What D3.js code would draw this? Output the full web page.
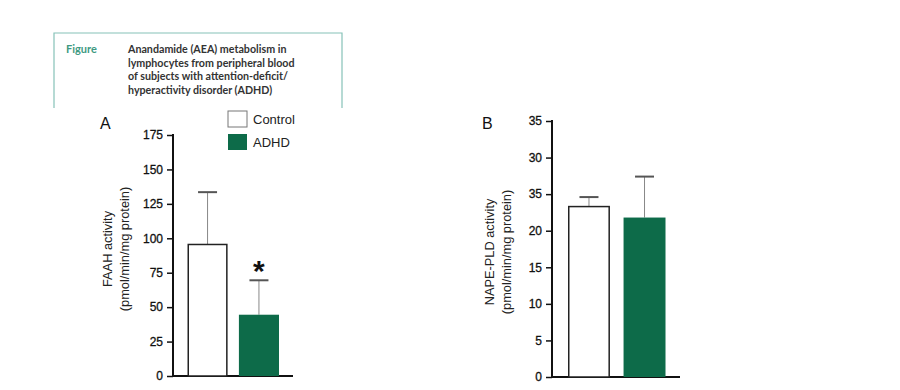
<!DOCTYPE html>
<html>
<head>
<meta charset="utf-8">
<script src="https://cdn.jsdelivr.net/npm/d3@7"></script>
<style>
  body { margin: 0; background: #fff; }
  svg { display: block; }
</style>
</head>
<body>
<div id="chart"></div>
<script>
// data
var groups = ["Control", "ADHD"];
var faahMean = [95.5, 44.5];
var faahErr = [38, 25];
var faahTicks = [0, 25, 50, 75, 100, 125, 150, 175];
var napeMean = [23.3, 21.8];
var napeErr = [1.3, 5.6];
var napeTicks = [0, 5, 10, 15, 20, 25, 30, 35];
var napeTickLabels = ["0", "5", "10", "15", "20", "35", "30", "35"];
var captionLines = ["Anandamide (AEA) metabolism in", "lymphocytes from peripheral blood",
  "of subjects with attention-deficit/", "hyperactivity disorder (ADHD)"];

const green = "#0d6b49";
const font = '"Liberation Sans", Arial, sans-serif';

const svg = d3.select("#chart")
  .append("svg")
  .attr("width", 900)
  .attr("height", 390);

// caption box (open at the bottom)
svg.append("path")
  .attr("d", "M54,108V33H342V108")
  .attr("fill", "none")
  .attr("stroke", "#86c2b8")
  .attr("stroke-width", 1.2);

svg.append("text")
  .attr("x", 66)
  .attr("y", 53)
  .attr("fill", "#3f9a82")
  .style("font-family", "Lato, sans-serif")
  .style("font-weight", 700)
  .style("font-size", "11px")
  .text("Figure");

svg.append("g").selectAll("text")
  .data(captionLines)
  .enter()
  .append("text")
  .attr("x", 128)
  .attr("y", (d, i) => 53 + i * 13.6)
  .attr("fill", "#333")
  .style("font-family", "Lato, sans-serif")
  .style("font-weight", 700)
  .style("font-size", "10.7px")
  .text(d => d);

function panel(opts) {
  const g = svg.append("g");

  const y = d3.scaleLinear()
    .domain([0, opts.ticks[opts.ticks.length - 1]])
    .range([opts.y0, opts.y1]);

  const x = d3.scaleBand()
    .domain(groups)
    .range(opts.barRange)
    .paddingInner(opts.pad);

  const axis = d3.axisLeft(y)
    .tickValues(opts.ticks)
    .tickSize(6)
    .tickPadding(4)
    .tickFormat((d, i) => opts.labels ? opts.labels[i] : d);

  const ag = g.append("g")
    .attr("transform", "translate(" + opts.ax + ",0)")
    .call(axis);
  ag.select(".domain").remove();
  ag.selectAll(".tick line").attr("stroke", "#111").attr("stroke-width", 1.5);
  ag.selectAll(".tick text")
    .style("font-family", font)
    .style("font-size", "12px")
    .attr("fill", "#111")
    .attr("stroke", "#111")
    .attr("stroke-width", 0.3);

  // axis lines
  g.append("line")
    .attr("x1", opts.ax).attr("x2", opts.ax)
    .attr("y1", y.range()[1] - 1).attr("y2", opts.y0 + 1)
    .attr("stroke", "#111").attr("stroke-width", 2);
  g.append("line")
    .attr("x1", opts.ax - 1).attr("x2", opts.axEnd)
    .attr("y1", opts.y0).attr("y2", opts.y0)
    .attr("stroke", "#111").attr("stroke-width", 2);

  // error bars (upper only)
  const eb = g.append("g").selectAll("g")
    .data(groups)
    .enter()
    .append("g");
  eb.append("line")
    .attr("x1", d => x(d) + x.bandwidth() / 2)
    .attr("x2", d => x(d) + x.bandwidth() / 2)
    .attr("y1", (d, i) => y(opts.mean[i]))
    .attr("y2", (d, i) => y(opts.mean[i] + opts.err[i]))
    .attr("stroke", "#888")
    .attr("stroke-width", 1);
  eb.append("line")
    .attr("x1", d => x(d) + x.bandwidth() / 2 - 9.5)
    .attr("x2", d => x(d) + x.bandwidth() / 2 + 9.5)
    .attr("y1", (d, i) => y(opts.mean[i] + opts.err[i]))
    .attr("y2", (d, i) => y(opts.mean[i] + opts.err[i]))
    .attr("stroke", "#555")
    .attr("stroke-width", 2);

  // bars
  g.append("g").selectAll("rect")
    .data(groups)
    .enter()
    .append("rect")
    .attr("x", d => x(d) + (d === "Control" ? 0.75 : 0))
    .attr("width", d => x.bandwidth() - (d === "Control" ? 1.5 : 0))
    .attr("y", (d, i) => y(opts.mean[i]))
    .attr("height", (d, i) => opts.y0 - y(opts.mean[i]))
    .attr("fill", d => d === "Control" ? "#fff" : green)
    .attr("stroke", d => d === "Control" ? "#222" : "none")
    .attr("stroke-width", 1.5);

  // panel letter
  g.append("text")
    .attr("x", opts.letterX)
    .attr("y", 129)
    .style("font-family", font)
    .style("font-size", "16px")
    .attr("fill", "#111")
    .text(opts.letter);

  // y title, two lines
  const t = g.append("text")
    .attr("transform", "translate(" + opts.titleX + "," + opts.titleY + ") rotate(-90)")
    .attr("text-anchor", "middle")
    .style("font-family", font)
    .style("font-size", "12.8px")
    .attr("fill", "#222");
  t.append("tspan").attr("x", 0).attr("y", 0).text(opts.title);
  t.append("tspan").attr("x", 0).attr("y", 17).text("(pmol/min/mg protein)");

  return { x: x, y: y, g: g };
}

const A = panel({
  letter: "A", letterX: 100,
  ticks: faahTicks, mean: faahMean, err: faahErr,
  y0: 376, y1: 135, ax: 173, axEnd: 293,
  barRange: [187.5, 279], pad: 0.22,
  title: "FAAH activity", titleX: 112, titleY: 249
});

const B = panel({
  letter: "B", letterX: 482,
  ticks: napeTicks, labels: napeTickLabels, mean: napeMean, err: napeErr,
  y0: 377, y1: 121, ax: 552, axEnd: 680,
  barRange: [568, 665.5], pad: 0.245,
  title: "NAPE-PLD activity", titleX: 494, titleY: 252
});

// significance mark on ADHD
A.g.append("text")
  .attr("x", A.x("ADHD") + A.x.bandwidth() / 2)
  .attr("y", A.y(faahMean[1] + faahErr[1]) + 1)
  .attr("text-anchor", "middle")
  .style("font-family", font)
  .style("font-size", "30px")
  .style("font-weight", 700)
  .attr("fill", "#111")
  .text("*");

// legend
const leg = svg.append("g").attr("transform", "translate(228,111)");
leg.selectAll("rect")
  .data(groups)
  .enter()
  .append("rect")
  .attr("x", 0)
  .attr("y", (d, i) => i * 23)
  .attr("width", 19)
  .attr("height", 16)
  .attr("fill", d => d === "Control" ? "#fff" : green)
  .attr("stroke", d => d === "Control" ? "#777" : "none")
  .attr("stroke-width", 1);
leg.selectAll("text")
  .data(groups)
  .enter()
  .append("text")
  .attr("x", 25)
  .attr("y", (d, i) => 13 + i * 23)
  .style("font-family", font)
  .style("font-size", "13px")
  .attr("fill", "#222")
  .text(d => d);
</script>
</body>
</html>
